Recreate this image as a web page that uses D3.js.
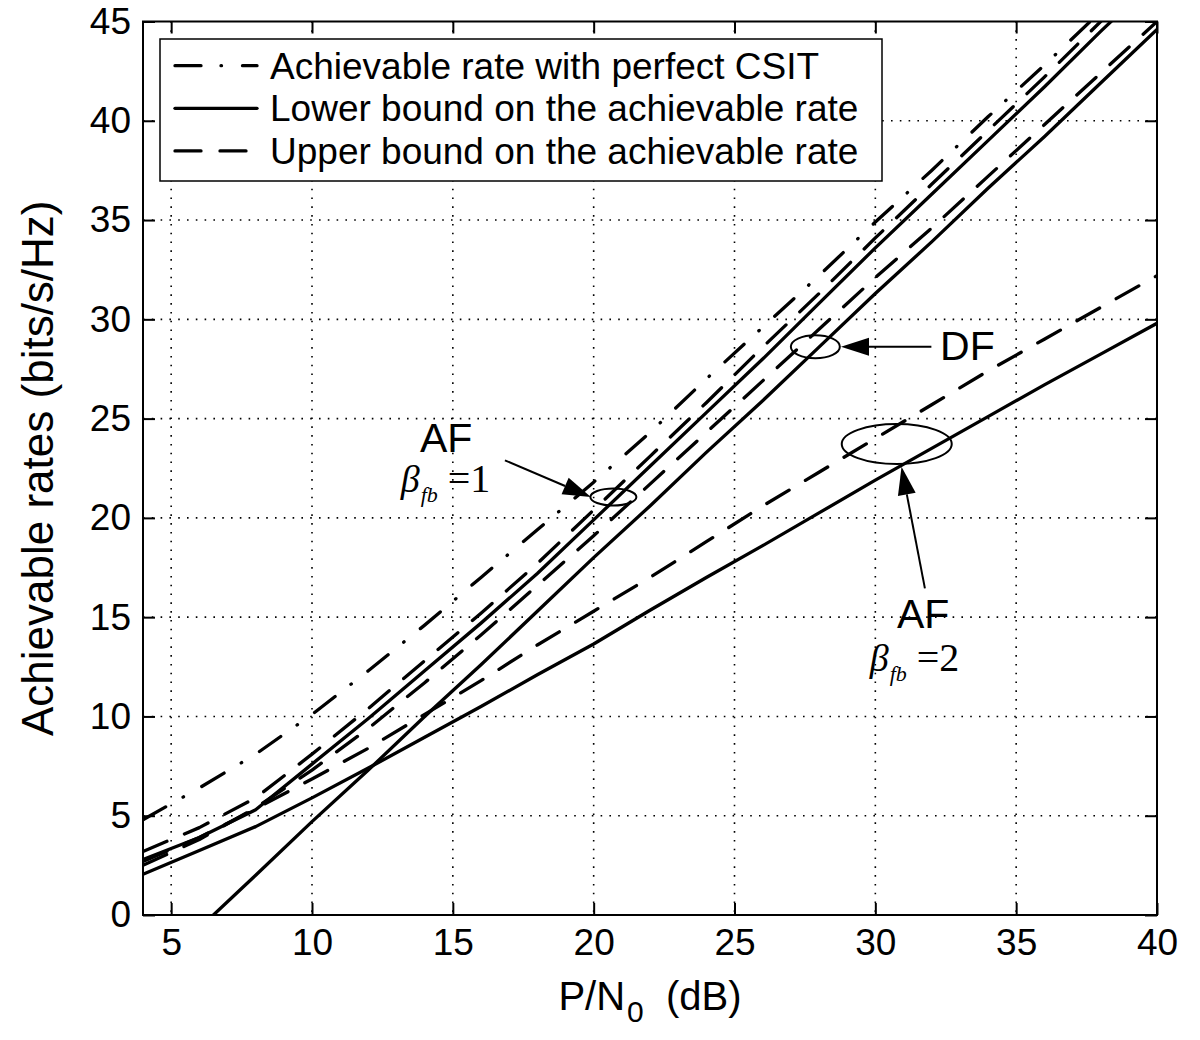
<!DOCTYPE html>
<html>
<head>
<meta charset="utf-8">
<script src="https://cdn.jsdelivr.net/npm/d3@7"></script>
<style>
  body { margin: 0; background: #fff; }
  svg { display: block; }
  text { fill: #000; }
</style>
</head>
<body>
<svg id="chart" width="1200" height="1040"></svg>
<script>
// P/N0 (dB) points where the rates were evaluated
var snr = [4, 6, 8, 10, 12, 14, 16, 18, 20, 22, 24, 26, 28, 30, 32, 34, 36, 38, 40];

// achievable rates (bits/s/Hz)
var csit     = [4.8, 6.4, 8.1, 10.1, 12.3, 14.6, 17.0, 19.4, 21.8, 24.3, 27.0, 29.6, 32.2, 34.9, 37.5, 40.2, 42.8, 45.5, 48.1];
var af1Upper = [3.2, 4.4, 5.9, 8.1, 10.4, 12.8, 15.2, 17.7, 20.4, 23.1, 25.8, 28.6, 31.3, 34.1, 36.8, 39.5, 42.2, 45.0, 47.7];
var af1Lower = [2.8, 3.9, 5.3, 7.6, 9.9, 12.3, 14.7, 17.2, 19.9, 22.6, 25.3, 28.0, 30.8, 33.6, 36.3, 39.0, 41.7, 44.5, 47.2];
var dfUpper  = [2.5, 3.8, 5.4, 7.3, 9.4, 11.7, 14.1, 16.6, 19.1, 21.7, 24.3, 26.9, 29.5, 32.1, 34.6, 37.2, 39.8, 42.4, 45.0];
var af2Upper = [2.7, 3.9, 5.35, 6.85, 8.4, 10.1, 11.8, 13.6, 15.3, 17.0, 18.8, 20.6, 22.3, 24.0, 25.7, 27.4, 29.0, 30.6, 32.2];
var af2Lower = [2.05, 3.25, 4.45, 5.9, 7.4, 8.95, 10.5, 12.1, 13.65, 15.35, 17.0, 18.6, 20.25, 21.9, 23.5, 25.1, 26.7, 28.25, 29.8];

// DF lower bound is zero below 6.5 dB
var dfLowerSnr = [6.5, 8, 10, 12, 14, 16, 18, 20, 22, 24, 26, 28, 30, 32, 34, 36, 38, 40];
var dfLower    = [0, 2.0, 4.7, 7.3, 10.0, 12.6, 15.3, 18.0, 20.6, 23.3, 25.9, 28.6, 31.3, 33.9, 36.6, 39.2, 41.9, 44.6];

var xTicks = [5, 10, 15, 20, 25, 30, 35, 40];
var yTicks = [0, 5, 10, 15, 20, 25, 30, 35, 40, 45];
var legendLabels = ["Achievable rate with perfect CSIT",
                    "Lower bound on the achievable rate",
                    "Upper bound on the achievable rate"];

var dashes = { csit: "26,20,0.5,21", lower: null, upper: "26,19" };

var series = [
    { x: snr, y: csit, kind: "csit" },
    { x: snr, y: af1Upper, kind: "upper" },
    { x: snr, y: af1Lower, kind: "lower" },
    { x: snr, y: dfUpper, kind: "upper" },
    { x: dfLowerSnr, y: dfLower, kind: "lower" },
    { x: snr, y: af2Upper, kind: "upper" },
    { x: snr, y: af2Lower, kind: "lower" }
];

var sans = "'Liberation Sans', Arial, Helvetica, sans-serif",
    serif = "'Liberation Serif', 'Times New Roman', serif";

var margin = { left: 143, top: 21.5, right: 43, bottom: 125 },
    width = 1200 - margin.left - margin.right,
    height = 1040 - margin.top - margin.bottom;

var x = d3.scaleLinear().domain([4, 40]).range([0, width]);
var y = d3.scaleLinear().domain([0, 45]).range([height, 0]);

var svg = d3.select("#chart");
var g = svg.append("g").attr("transform", "translate(" + margin.left + "," + margin.top + ")");

// dotted grid
g.append("g").selectAll("line")
    .data(xTicks.filter(function (d) { return d < 40; }))
  .enter().append("line")
    .attr("x1", function (d) { return x(d); }).attr("x2", function (d) { return x(d); })
    .attr("y1", 0).attr("y2", height)
    .attr("stroke", "#000").attr("stroke-width", 1.6).attr("stroke-dasharray", "1.6,7.2");

g.append("g").selectAll("line")
    .data(yTicks.filter(function (d) { return d > 0 && d < 45; }))
  .enter().append("line")
    .attr("x1", 0).attr("x2", width)
    .attr("y1", function (d) { return y(d); }).attr("y2", function (d) { return y(d); })
    .attr("stroke", "#000").attr("stroke-width", 1.6).attr("stroke-dasharray", "1.6,7.2");

// axes, MATLAB style: ticks point inward on all four sides
g.append("g").attr("transform", "translate(0," + height + ")")
    .call(d3.axisBottom(x).tickValues(xTicks).tickSizeInner(-12).tickSizeOuter(0).tickPadding(14));
g.append("g")
    .call(d3.axisLeft(y).tickValues(yTicks).tickSizeInner(-12).tickSizeOuter(0).tickPadding(12));
g.append("g")
    .call(d3.axisTop(x).tickValues(xTicks).tickSizeInner(-12).tickSizeOuter(0).tickFormat(""));
g.append("g").attr("transform", "translate(" + width + ",0)")
    .call(d3.axisRight(y).tickValues(yTicks).tickSizeInner(-12).tickSizeOuter(0).tickFormat(""));

g.selectAll(".domain").remove();
g.selectAll(".tick line").attr("stroke", "#000").attr("stroke-width", 2);
g.selectAll(".tick text").attr("font-family", sans).attr("font-size", 37).attr("fill", "#000");

// curves
g.append("clipPath").attr("id", "plot-clip")
  .append("rect").attr("width", width).attr("height", height);

var line = d3.line()
    .x(function (d) { return x(d[0]); })
    .y(function (d) { return y(d[1]); });

g.append("g").attr("clip-path", "url(#plot-clip)")
  .selectAll("path")
    .data(series)
  .enter().append("path")
    .attr("d", function (s) { return line(d3.zip(s.x, s.y)); })
    .attr("fill", "none")
    .attr("stroke", "#000")
    .attr("stroke-width", 3.3)
    .attr("stroke-linecap", "round")
    .attr("stroke-linejoin", "round")
    .attr("stroke-dasharray", function (s) { return dashes[s.kind]; });

// frame
g.append("rect").attr("width", width).attr("height", height)
    .attr("fill", "none").attr("stroke", "#000").attr("stroke-width", 2);

// annotations (positions in data units)
function arrow(x0, y0, x1, y1) {
    var px0 = x(x0), py0 = y(y0), px1 = x(x1), py1 = y(y1);
    var a = Math.atan2(py1 - py0, px1 - px0), len = 28, hw = 9;
    var bx = px1 - len * Math.cos(a), by = py1 - len * Math.sin(a);
    g.append("line").attr("x1", px0).attr("y1", py0).attr("x2", bx).attr("y2", by)
        .attr("stroke", "#000").attr("stroke-width", 2);
    g.append("polygon")
        .attr("points", [[px1, py1],
                         [bx - hw * Math.sin(a), by + hw * Math.cos(a)],
                         [bx + hw * Math.sin(a), by - hw * Math.cos(a)]].join(" "))
        .attr("fill", "#000");
}

function ellipse(cx, cy, rx, ry) {
    g.append("ellipse").attr("cx", x(cx)).attr("cy", y(cy)).attr("rx", rx).attr("ry", ry)
        .attr("fill", "none").attr("stroke", "#000").attr("stroke-width", 2);
}

function label(tx, ty, str) {
    g.append("text").attr("x", x(tx)).attr("y", y(ty))
        .attr("font-family", sans).attr("font-size", 41).text(str);
}

function beta(tx, ty, val) {
    var t = g.append("text").attr("x", x(tx)).attr("y", y(ty))
        .attr("font-family", serif).attr("font-size", 38);
    t.append("tspan").attr("font-style", "italic").text("β");
    t.append("tspan").attr("font-style", "italic").attr("font-size", 22).attr("dy", 10).attr("dx", 1).text("fb");
    t.append("tspan").attr("dy", -10).attr("dx", 10).attr("font-size", 40).text("=" + val);
}

ellipse(20.7, 21.05, 23, 8.5);
arrow(16.85, 22.9, 19.9, 21.05);
label(13.83, 23.3, "AF");
beta(13.15, 21.3, 1);

ellipse(27.87, 28.62, 24.5, 11.5);
arrow(31.99, 28.62, 28.78, 28.62);
label(32.3, 27.95, "DF");

ellipse(30.76, 23.72, 55, 20);
arrow(31.76, 16.45, 30.93, 22.57);
label(30.77, 14.45, "AF");
beta(29.8, 12.3, 2);

// legend
var legend = svg.append("g").attr("transform", "translate(160,39)");
legend.append("rect").attr("width", 722).attr("height", 142)
    .attr("fill", "#fff").attr("stroke", "#000").attr("stroke-width", 1.5);
var item = legend.selectAll("g.item")
    .data(legendLabels)
  .enter().append("g").attr("class", "item")
    .attr("transform", function (d, i) { return "translate(0," + (26.7 + i * 42.6) + ")"; });
item.append("line")
    .attr("x1", 15).attr("x2", 97)
    .attr("stroke", "#000").attr("stroke-width", 3.3).attr("stroke-linecap", "round")
    .attr("stroke-dasharray", function (d, i) { return [dashes.csit, null, dashes.upper][i]; });
item.append("text")
    .attr("x", 110).attr("y", 13)
    .attr("font-family", sans).attr("font-size", 37)
    .text(function (d) { return d; });

// axis labels
var xl = svg.append("text")
    .attr("x", margin.left + width / 2).attr("y", 1010)
    .attr("text-anchor", "middle")
    .attr("font-family", sans).attr("font-size", 40);
xl.append("tspan").text("P/N");
xl.append("tspan").attr("font-size", 30).attr("dy", 12).attr("dx", 2).text("0");
xl.append("tspan").attr("dy", -12).text("\u00a0\u00a0(dB)");

svg.append("text")
    .attr("transform", "translate(53," + (margin.top + height / 2) + ") rotate(-90)")
    .attr("text-anchor", "middle")
    .attr("font-family", sans).attr("font-size", 44)
    .text("Achievable rates (bits/s/Hz)");
</script>
</body>
</html>
